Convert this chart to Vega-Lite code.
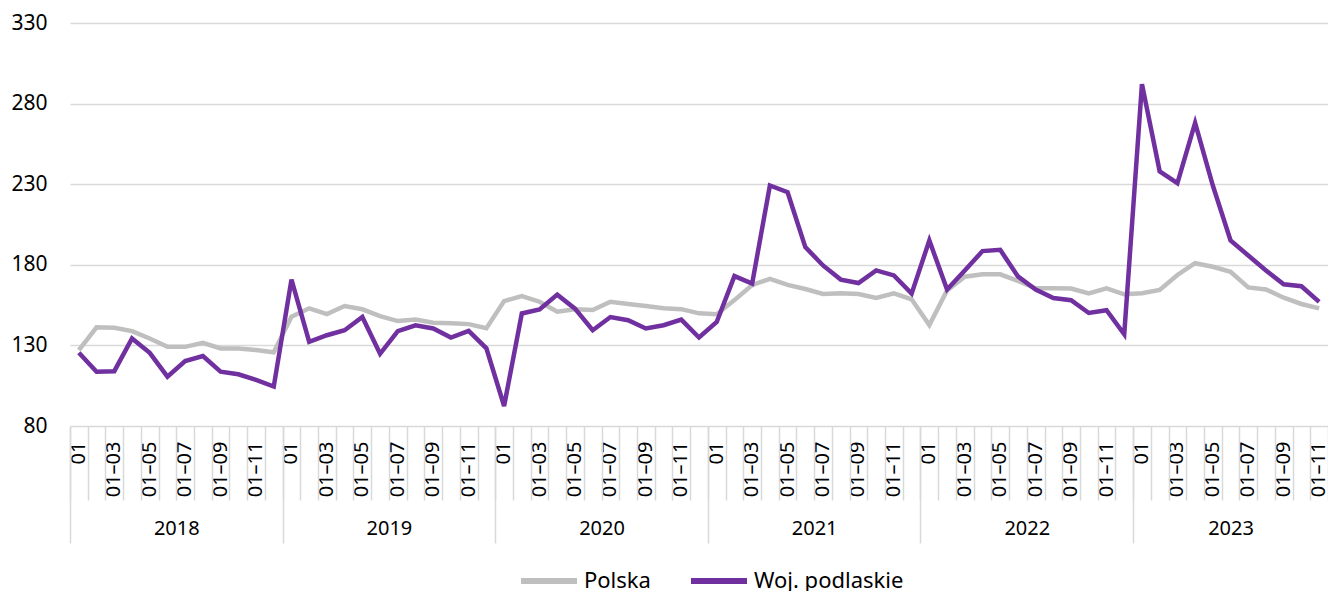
{
  "$schema": "https://vega.github.io/schema/vega-lite/v6.json",
  "width": 1258,
  "height": 403,
  "autosize": {"type": "none"},
  "padding": {"left": 70, "top": 23, "right": 0, "bottom": 165},
  "background": "white",
  "config": {
    "font": "Noto Sans",
    "view": {"stroke": null},
    "axis": {"labelFont": "Noto Sans", "labelColor": "#000000", "title": null}
  },
  "datasets": {
    "series": [
      {"month":"2018-01","series":"Polska","value":127.1},{"month":"2018-02","series":"Polska","value":141.2},{"month":"2018-03","series":"Polska","value":141.0},{"month":"2018-04","series":"Polska","value":138.9},{"month":"2018-05","series":"Polska","value":134.3},{"month":"2018-06","series":"Polska","value":129.1},{"month":"2018-07","series":"Polska","value":129.1},{"month":"2018-08","series":"Polska","value":131.6},{"month":"2018-09","series":"Polska","value":128.1},{"month":"2018-10","series":"Polska","value":128.0},{"month":"2018-11","series":"Polska","value":127.1},{"month":"2018-12","series":"Polska","value":125.7},
      {"month":"2019-01","series":"Polska","value":147.8},{"month":"2019-02","series":"Polska","value":153.0},{"month":"2019-03","series":"Polska","value":149.4},{"month":"2019-04","series":"Polska","value":154.4},{"month":"2019-05","series":"Polska","value":152.4},{"month":"2019-06","series":"Polska","value":148.2},{"month":"2019-07","series":"Polska","value":145.1},{"month":"2019-08","series":"Polska","value":146.1},{"month":"2019-09","series":"Polska","value":144.0},{"month":"2019-10","series":"Polska","value":143.7},{"month":"2019-11","series":"Polska","value":143.2},{"month":"2019-12","series":"Polska","value":140.6},
      {"month":"2020-01","series":"Polska","value":157.5},{"month":"2020-02","series":"Polska","value":160.6},{"month":"2020-03","series":"Polska","value":157.1},{"month":"2020-04","series":"Polska","value":150.9},{"month":"2020-05","series":"Polska","value":152.4},{"month":"2020-06","series":"Polska","value":151.9},{"month":"2020-07","series":"Polska","value":157.1},{"month":"2020-08","series":"Polska","value":155.7},{"month":"2020-09","series":"Polska","value":154.4},{"month":"2020-10","series":"Polska","value":153.0},{"month":"2020-11","series":"Polska","value":152.5},{"month":"2020-12","series":"Polska","value":149.9},
      {"month":"2021-01","series":"Polska","value":149.3},{"month":"2021-02","series":"Polska","value":158.1},{"month":"2021-03","series":"Polska","value":167.5},{"month":"2021-04","series":"Polska","value":171.2},{"month":"2021-05","series":"Polska","value":167.5},{"month":"2021-06","series":"Polska","value":165.0},{"month":"2021-07","series":"Polska","value":161.9},{"month":"2021-08","series":"Polska","value":162.3},{"month":"2021-09","series":"Polska","value":161.9},{"month":"2021-10","series":"Polska","value":159.4},{"month":"2021-11","series":"Polska","value":162.3},{"month":"2021-12","series":"Polska","value":158.6},
      {"month":"2022-01","series":"Polska","value":142.6},{"month":"2022-02","series":"Polska","value":164.0},{"month":"2022-03","series":"Polska","value":172.6},{"month":"2022-04","series":"Polska","value":174.1},{"month":"2022-05","series":"Polska","value":174.1},{"month":"2022-06","series":"Polska","value":170.0},{"month":"2022-07","series":"Polska","value":165.4},{"month":"2022-08","series":"Polska","value":165.4},{"month":"2022-09","series":"Polska","value":165.3},{"month":"2022-10","series":"Polska","value":162.3},{"month":"2022-11","series":"Polska","value":165.4},{"month":"2022-12","series":"Polska","value":161.7},
      {"month":"2023-01","series":"Polska","value":162.3},{"month":"2023-02","series":"Polska","value":164.4},{"month":"2023-03","series":"Polska","value":173.7},{"month":"2023-04","series":"Polska","value":181.0},{"month":"2023-05","series":"Polska","value":178.8},{"month":"2023-06","series":"Polska","value":175.7},{"month":"2023-07","series":"Polska","value":166.0},{"month":"2023-08","series":"Polska","value":164.7},{"month":"2023-09","series":"Polska","value":159.6},{"month":"2023-10","series":"Polska","value":155.7},{"month":"2023-11","series":"Polska","value":153.0},
      {"month":"2018-01","series":"Woj. podlaskie","value":125.4},{"month":"2018-02","series":"Woj. podlaskie","value":113.7},{"month":"2018-03","series":"Woj. podlaskie","value":114.0},{"month":"2018-04","series":"Woj. podlaskie","value":134.3},{"month":"2018-05","series":"Woj. podlaskie","value":125.4},{"month":"2018-06","series":"Woj. podlaskie","value":110.6},{"month":"2018-07","series":"Woj. podlaskie","value":120.3},{"month":"2018-08","series":"Woj. podlaskie","value":123.4},{"month":"2018-09","series":"Woj. podlaskie","value":113.7},{"month":"2018-10","series":"Woj. podlaskie","value":112.1},{"month":"2018-11","series":"Woj. podlaskie","value":108.6},{"month":"2018-12","series":"Woj. podlaskie","value":104.5},
      {"month":"2019-01","series":"Woj. podlaskie","value":170.8},{"month":"2019-02","series":"Woj. podlaskie","value":132.2},{"month":"2019-03","series":"Woj. podlaskie","value":136.3},{"month":"2019-04","series":"Woj. podlaskie","value":139.4},{"month":"2019-05","series":"Woj. podlaskie","value":147.6},{"month":"2019-06","series":"Woj. podlaskie","value":124.8},{"month":"2019-07","series":"Woj. podlaskie","value":138.8},{"month":"2019-08","series":"Woj. podlaskie","value":142.5},{"month":"2019-09","series":"Woj. podlaskie","value":140.5},{"month":"2019-10","series":"Woj. podlaskie","value":134.9},{"month":"2019-11","series":"Woj. podlaskie","value":139.0},{"month":"2019-12","series":"Woj. podlaskie","value":128.2},
      {"month":"2020-01","series":"Woj. podlaskie","value":92.4},{"month":"2020-02","series":"Woj. podlaskie","value":149.8},{"month":"2020-03","series":"Woj. podlaskie","value":152.3},{"month":"2020-04","series":"Woj. podlaskie","value":161.5},{"month":"2020-05","series":"Woj. podlaskie","value":152.8},{"month":"2020-06","series":"Woj. podlaskie","value":139.4},{"month":"2020-07","series":"Woj. podlaskie","value":147.6},{"month":"2020-08","series":"Woj. podlaskie","value":145.6},{"month":"2020-09","series":"Woj. podlaskie","value":140.5},{"month":"2020-10","series":"Woj. podlaskie","value":142.5},{"month":"2020-11","series":"Woj. podlaskie","value":146.0},{"month":"2020-12","series":"Woj. podlaskie","value":134.9},
      {"month":"2021-01","series":"Woj. podlaskie","value":144.5},{"month":"2021-02","series":"Woj. podlaskie","value":173.0},{"month":"2021-03","series":"Woj. podlaskie","value":168.3},{"month":"2021-04","series":"Woj. podlaskie","value":229.2},{"month":"2021-05","series":"Woj. podlaskie","value":225.0},{"month":"2021-06","series":"Woj. podlaskie","value":191.0},{"month":"2021-07","series":"Woj. podlaskie","value":179.6},{"month":"2021-08","series":"Woj. podlaskie","value":170.8},{"month":"2021-09","series":"Woj. podlaskie","value":168.7},{"month":"2021-10","series":"Woj. podlaskie","value":176.5},{"month":"2021-11","series":"Woj. podlaskie","value":173.4},{"month":"2021-12","series":"Woj. podlaskie","value":162.1},
      {"month":"2022-01","series":"Woj. podlaskie","value":195.1},{"month":"2022-02","series":"Woj. podlaskie","value":164.6},{"month":"2022-03","series":"Woj. podlaskie","value":176.5},{"month":"2022-04","series":"Woj. podlaskie","value":188.5},{"month":"2022-05","series":"Woj. podlaskie","value":189.3},{"month":"2022-06","series":"Woj. podlaskie","value":172.8},{"month":"2022-07","series":"Woj. podlaskie","value":164.6},{"month":"2022-08","series":"Woj. podlaskie","value":159.4},{"month":"2022-09","series":"Woj. podlaskie","value":158.0},{"month":"2022-10","series":"Woj. podlaskie","value":150.1},{"month":"2022-11","series":"Woj. podlaskie","value":151.8},{"month":"2022-12","series":"Woj. podlaskie","value":136.9},
      {"month":"2023-01","series":"Woj. podlaskie","value":292.1},{"month":"2023-02","series":"Woj. podlaskie","value":238.0},{"month":"2023-03","series":"Woj. podlaskie","value":230.6},{"month":"2023-04","series":"Woj. podlaskie","value":268.0},{"month":"2023-05","series":"Woj. podlaskie","value":229.2},{"month":"2023-06","series":"Woj. podlaskie","value":195.1},{"month":"2023-07","series":"Woj. podlaskie","value":185.8},{"month":"2023-08","series":"Woj. podlaskie","value":176.5},{"month":"2023-09","series":"Woj. podlaskie","value":167.9},{"month":"2023-10","series":"Woj. podlaskie","value":166.7},{"month":"2023-11","series":"Woj. podlaskie","value":157.0}
    ],
    "years": [
      {"year": "2018", "start": 0, "mid": 6},
      {"year": "2019", "start": 12, "mid": 18},
      {"year": "2020", "start": 24, "mid": 30},
      {"year": "2021", "start": 36, "mid": 42},
      {"year": "2022", "start": 48, "mid": 54},
      {"year": "2023", "start": 60, "mid": 65.5}
    ]
  },
  "layer": [
    {
      "data": {"name": "series"},
      "mark": {"type": "line", "strokeWidth": 4.5},
      "encoding": {
        "x": {
          "field": "month", "type": "ordinal", "sort": null,
          "scale": {"type": "band", "paddingInner": 0, "paddingOuter": 0},
          "axis": {
            "orient": "bottom",
            "ticks": false,
            "domain": false,
            "grid": false,
            "labelAngle": -90,
            "labelFontSize": 20,
            "labelPadding": 15,
            "labelExpr": "slice(datum.value, 5) == '01' ? '01' : (toNumber(slice(datum.value, 5)) % 2 == 1 ? '01–' + slice(datum.value, 5) : '')"
          }
        },
        "y": {
          "field": "value", "type": "quantitative",
          "scale": {"domain": [80, 330], "nice": false, "zero": false},
          "axis": {
            "values": [80, 130, 180, 230, 280, 330],
            "ticks": false, "domain": false,
            "gridColor": "#d9d9d9", "gridWidth": 1.5,
            "labelFontSize": 21, "labelPadding": 23
          }
        },
        "color": {
          "field": "series", "type": "nominal",
          "scale": {"domain": ["Polska", "Woj. podlaskie"], "range": ["#bfbfbf", "#7030a0"]},
          "legend": {
            "title": null,
            "orient": "none",
            "direction": "horizontal",
            "legendX": 448,
            "legendY": 527,
            "symbolType": "stroke",
            "symbolSize": 3136,
            "symbolStrokeWidth": 6,
            "labelFontSize": 22,
            "labelColor": "#000000",
            "labelOffset": 4,
            "columnPadding": 28
          }
        }
      }
    },
    {
      "data": {"name": "years"},
      "mark": {"type": "point", "opacity": 0},
      "encoding": {
        "x": {
          "field": "start", "type": "quantitative",
          "scale": {"domain": [0, 71], "nice": false, "zero": false},
          "axis": {
            "orient": "bottom",
            "values": [0,1,2,3,4,5,6,7,8,9,10,11,12,13,14,15,16,17,18,19,20,21,22,23,24,25,26,27,28,29,30,31,32,33,34,35,36,37,38,39,40,41,42,43,44,45,46,47,48,49,50,51,52,53,54,55,56,57,58,59,60,61,62,63,64,65,66,67,68,69,70,71],
            "labels": false, "domain": false, "grid": false,
            "tickSize": 74, "tickColor": "#d9d9d9", "tickWidth": 1.5
          }
        }
      }
    },
    {
      "data": {"name": "years"},
      "mark": {"type": "point", "opacity": 0},
      "encoding": {
        "x": {
          "field": "start", "type": "quantitative",
          "scale": {"domain": [0, 71], "nice": false, "zero": false},
          "axis": {
            "orient": "bottom",
            "values": [0, 12, 24, 36, 48, 60],
            "labels": false, "domain": false, "grid": false,
            "tickSize": 117, "tickColor": "#d9d9d9", "tickWidth": 1.5
          }
        }
      }
    },
    {
      "data": {"name": "years"},
      "mark": {"type": "point", "opacity": 0},
      "encoding": {
        "x": {
          "field": "mid", "type": "quantitative",
          "scale": {"domain": [0, 71], "nice": false, "zero": false},
          "axis": {
            "orient": "bottom",
            "values": [6, 18, 30, 42, 54, 65.5],
            "ticks": false, "domain": false, "grid": false,
            "labelFontSize": 20,
            "labelPadding": 92,
            "labelAngle": 0,
            "labelExpr": "toString(2018 + floor(datum.value / 12))"
          }
        }
      }
    }
  ],
  "resolve": {"scale": {"x": "independent"}, "axis": {"x": "independent"}}
}
